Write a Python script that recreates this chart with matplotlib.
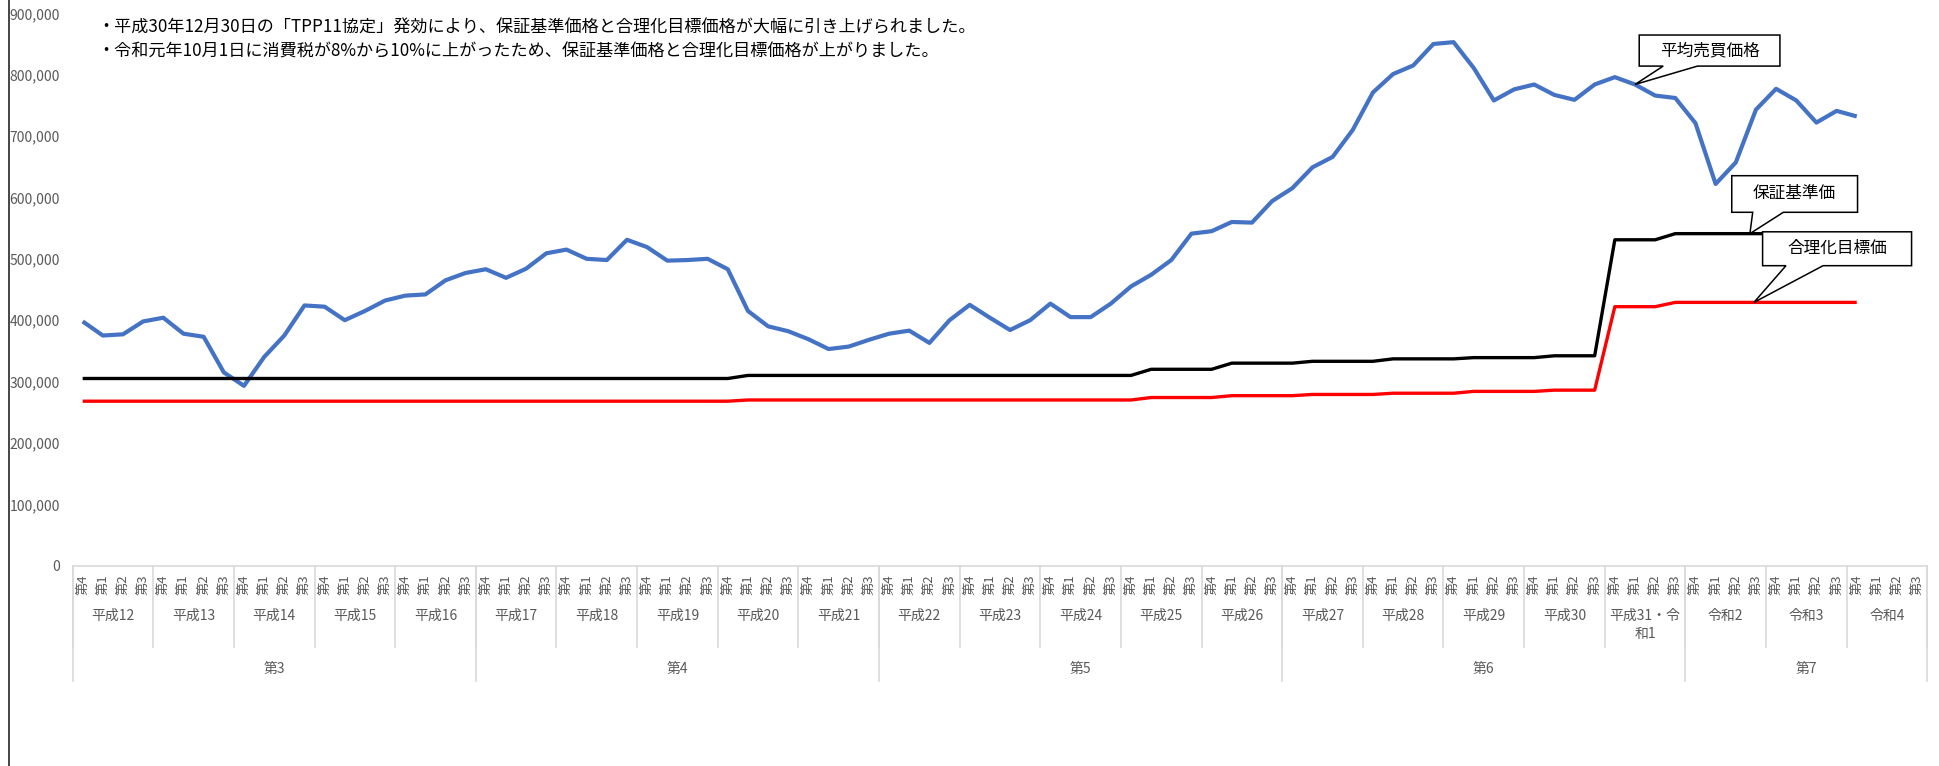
import matplotlib
matplotlib.use("Agg")
import matplotlib.pyplot as plt
import numpy as np
from matplotlib.patches import Polygon
from matplotlib.lines import Line2D
from matplotlib.transforms import blended_transform_factory
from matplotlib.ticker import FuncFormatter

plt.rcParams['font.family'] = ['Noto Sans CJK JP', 'DejaVu Sans']

# ---------------- data ----------------
quarters = ['第4', '第1', '第2', '第3'] * 23
years = ['平成12', '平成13', '平成14', '平成15', '平成16', '平成17', '平成18', '平成19',
         '平成20', '平成21', '平成22', '平成23', '平成24', '平成25', '平成26', '平成27',
         '平成28', '平成29', '平成30', '平成31・令\n和1', '令和2', '令和3', '令和4']
periods = ['第3', '第4', '第5', '第6', '第7']
period_years = [5, 5, 5, 5, 3]

avg_price = [398000, 375000, 377000, 398000, 404000, 378000, 373000, 315000, 293000, 340000,
             375000, 424000, 422000, 400000, 415000, 432000, 440000, 442000, 465000, 477000,
             483000, 469000, 484000, 509000, 515000, 500000, 498000, 531000, 519000, 497000,
             498000, 500000, 483000, 415000, 390000, 382000, 369000, 353000, 357000, 368000,
             378000, 383000, 363000, 400000, 425000, 404000, 384000, 400000, 427000, 405000,
             405000, 427000, 455000, 474000, 498000, 541000, 545000, 560000, 559000, 594000,
             615000, 649000, 666000, 710000, 771000, 801000, 815000, 850000, 853000, 811000,
             758000, 776000, 784000, 767000, 759000, 784000, 796000, 784000, 766000, 762000,
             721000, 622000, 657000, 743000, 777000, 758000, 722000, 741000, 732000]

guarantee = ([305000] * 33 + [310000] * 20 + [320000] * 4 + [330000] * 4 + [333000] * 4 +
             [337000] * 4 + [339000] * 4 + [342000] * 3 + [531000] * 3 + [541000] * 10)

target = ([268000] * 33 + [270000] * 20 + [274000] * 4 + [277000] * 4 + [279000] * 4 +
          [281000] * 4 + [284000] * 4 + [286000] * 3 + [422000] * 3 + [429000] * 10)

notes = ['・平成30年12月30日の「TPP11協定」発効により、保証基準価格と合理化目標価格が大幅に引き上げられました。',
         '・令和元年10月1日に消費税が8%から10%に上がったため、保証基準価格と合理化目標価格が上がりました。']
series_names = ['平均売買価格', '保証基準価', '合理化目標価']

# ---------------- figure ----------------
W, H = 1940, 766
fig = plt.figure(figsize=(W / 100, H / 100), dpi=100)
ax_l, ax_r, ax_t, ax_b = 72.6, 1927.3, 13.3, 565.7
ax = fig.add_axes([ax_l / W, 1 - ax_b / H, (ax_r - ax_l) / W, (ax_b - ax_t) / H])

n = len(quarters)
ax.plot(np.arange(len(avg_price)), avg_price, color='#4472C4', lw=3.0, zorder=3,
        solid_joinstyle='round', solid_capstyle='butt')
ax.plot(np.arange(len(guarantee)), guarantee, color='#000000', lw=2.4, zorder=4,
        solid_joinstyle='round', solid_capstyle='butt')
ax.plot(np.arange(len(target)), target, color='#FF0000', lw=2.4, zorder=4,
        solid_joinstyle='round', solid_capstyle='butt')

ax.set_xlim(-0.5, n - 0.5)
ax.set_ylim(0, 900000)
ax.set_yticks(np.arange(0, 900001, 100000))
ax.yaxis.set_major_formatter(FuncFormatter(lambda v, p: f'{int(v):,}'))
ax.tick_params(axis='y', length=0, pad=9, labelsize=10, labelcolor='#595959')
ax.set_xticks([])
for s in ['top', 'right', 'left']:
    ax.spines[s].set_visible(False)
ax.spines['bottom'].set_color('#d9d9d9')
ax.spines['bottom'].set_linewidth(1.2)

trans = blended_transform_factory(ax.transData, fig.transFigure)
def fy(px):
    return 1 - px / H

gray = '#595959'
sep = '#d9d9d9'
# quarter labels
for i, q in enumerate(quarters):
    ax.text(i, fy(585), q, rotation=90, ha='center', va='center', fontsize=9.5,
            color=gray, transform=trans)
# year labels and separators
for k, yl in enumerate(years):
    ax.text(4 * k + 1.5, fy(609), yl, ha='center', va='top', fontsize=10, color=gray,
            transform=trans, linespacing=1.35)
for k in range(len(years) + 1):
    fig.add_artist(Line2D([4 * k - 0.5] * 2, [fy(ax_b), fy(647)], transform=trans,
                          color=sep, lw=1.2))
# period labels and separators
start = 0
bounds = [0]
for p, ny in zip(periods, period_years):
    mid = start * 4 + ny * 4 / 2 - 0.5
    ax.text(mid, fy(669), p, ha='center', va='center', fontsize=10, color=gray,
            transform=trans)
    start += ny
    bounds.append(start)
for b in bounds:
    fig.add_artist(Line2D([4 * b - 0.5] * 2, [fy(ax_b), fy(681)], transform=trans,
                          color=sep, lw=1.2))

# notes
for j, t in enumerate(notes):
    fig.text(97 / W, fy(28 + 23.5 * j), t, ha='left', va='center', fontsize=12.3,
             color='black')

# left border of the chart area
fig.add_artist(Line2D([9.5 / W, 9.5 / W], [0, 1], color='#262626', lw=1.2))

# callouts
def callout(label, tip, box, base):
    x0, x1, y0, y1 = box
    bx0, bx1 = base
    verts = [(x0, y1), (x1, y1), (x1, y0), (bx1, y0), tip, (bx0, y0), (x0, y0)]
    ax.add_patch(Polygon(verts, closed=True, fc='white', ec='black', lw=1.1,
                         zorder=6, clip_on=False, joinstyle='miter'))
    ax.text((x0 + x1) / 2, (y0 + y1) / 2, label, ha='center', va='center',
            fontsize=12, color='black', zorder=7)

callout(series_names[0], (77, avg_price[77]), (77.21, 84.19, 814000, 864600), (78.4, 80.1))
callout(series_names[1], (82.7, guarantee[82]), (81.8, 88.04, 575800, 635400), (82.84, 84.36))
callout(series_names[2], (82.9, target[82]), (83.33, 90.72, 488800, 544000), (84.49, 86.33))

fig.savefig('out.png', dpi=100)
